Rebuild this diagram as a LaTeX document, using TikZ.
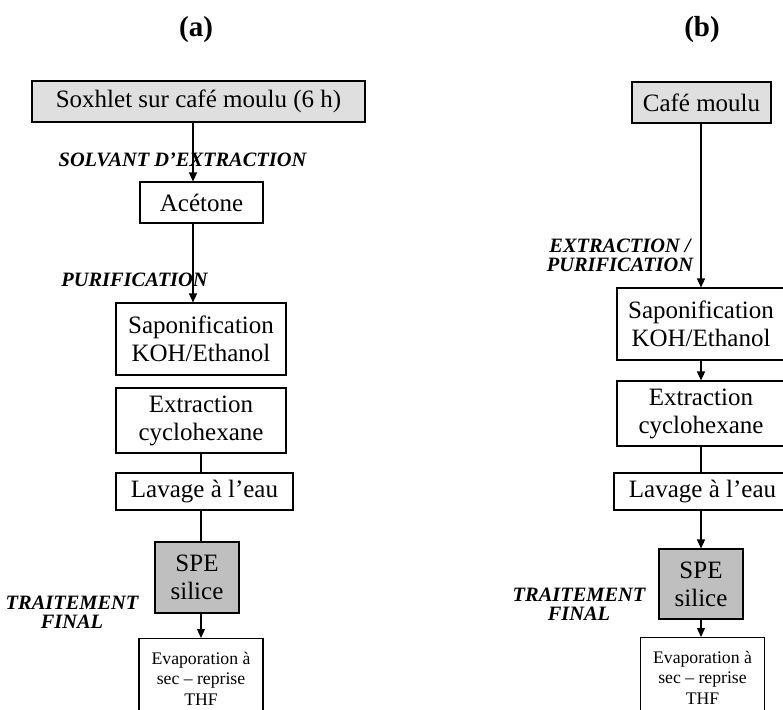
\documentclass[tikz,border=0pt]{standalone}
\usepackage{fontspec}
\setmainfont{Liberation Serif}
\usetikzlibrary{arrows.meta}

\begin{document}
\begin{tikzpicture}[x=1pt, y=-1pt,
  box/.style={draw, line width=1.1pt, inner sep=0pt, align=center, font=\fontsize{25}{28}\selectfont},
  lightbox/.style={box, fill=gray!25},
  darkbox/.style={box, fill=gray!50},
  smallbox/.style={box, font=\fontsize{17.7}{20.5}\selectfont},
  stage/.style={inner sep=0pt, align=center, font=\fontsize{20.4}{19}\selectfont\bfseries\itshape},
  panel/.style={inner sep=0pt, font=\fontsize{29}{32}\selectfont\bfseries},
  arr/.style={line width=1.1pt, -{Triangle[length=9pt,width=8pt]}},
  link/.style={line width=1.1pt}]
\useasboundingbox (0,0) rectangle (783,709);
\clip (0,0) rectangle (783,709);

% (a) extraction au Soxhlet
\node[panel] (titleA) at (196,30) {(a)};
\node[lightbox, minimum width=333, minimum height=41] (soxA) at (198.5,101.5) {Soxhlet sur café moulu (6 h)};
\node[box, minimum width=123, minimum height=41] (acetA) at (201.5,202.5) {Acétone};
\node[box, minimum width=170, minimum height=72] (sapA) at (201,339) {Saponification\\KOH/Ethanol};
\node[box, minimum width=170, minimum height=65] (extA) at (201,420.5) {Extraction\\cyclohexane};
\node[box, minimum width=177, minimum height=37] (lavA) at (204.5,491.5) {Lavage à l’eau};
\node[darkbox, minimum width=84, minimum height=71] (speA) at (197,577.5) {SPE\\silice};
\node[smallbox, minimum width=124, minimum height=80, anchor=north] (evapA) at (201,638) {Evaporation à\\sec – reprise\\THF};

\node[stage] (solvA) at (182.5,160) {SOLVANT D’EXTRACTION};
\node[stage] (purA) at (134.5,280) {PURIFICATION};
\node[stage] (traitA) at (72,612.5) {TRAITEMENT\\FINAL};

\draw[arr] ([xshift=-8.5pt]acetA.north |- soxA.south) -- ([xshift=-8.5pt]acetA.north);
\draw[arr] ([xshift=-8.5pt]acetA.south) -- ([xshift=-8.5pt]acetA.south |- sapA.north);
\draw[link] (extA.south) -- (extA.south |- lavA.north);
\draw[link] (extA.south |- lavA.south) -- (extA.south |- speA.north);
\draw[arr] (evapA.north |- speA.south) -- (evapA.north);

% (b) extraction directe
\node[panel] (titleB) at (702,30) {(b)};
\node[lightbox, minimum width=139, minimum height=41] (cafeB) at (701.5,102.5) {Café moulu};
\node[box, minimum width=168, minimum height=72] (sapB) at (701,324) {Saponification\\KOH/Ethanol};
\node[box, minimum width=168, minimum height=65] (extB) at (701,413.5) {Extraction\\cyclohexane};
\node[box, minimum width=177, minimum height=37] (lavB) at (702.5,491.5) {Lavage à l’eau};
\node[darkbox, minimum width=84, minimum height=70] (speB) at (701,584) {SPE\\silice};
\node[smallbox, minimum width=124, minimum height=80, anchor=north] (evapB) at (702.5,637) {Evaporation à\\sec – reprise\\THF};

\node[stage] (purB) at (620,255) {EXTRACTION /\\PURIFICATION};
\node[stage] (traitB) at (579,604) {TRAITEMENT\\FINAL};

\draw[arr] (sapB.north |- cafeB.south) -- (sapB.north);
\draw[arr] (sapB.south) -- (extB.north);
\draw[link] (extB.south) -- (extB.south |- lavB.north);
\draw[arr] (speB.north |- lavB.south) -- (speB.north);
\draw[arr] (speB.south) -- (speB.south |- evapB.north);
\end{tikzpicture}
\end{document}
